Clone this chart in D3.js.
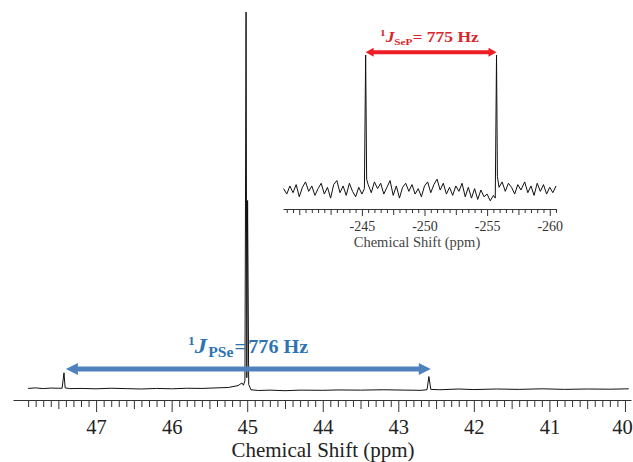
<!DOCTYPE html>
<html>
<head>
<meta charset="utf-8">
<script src="https://cdn.jsdelivr.net/npm/d3@7"></script>
<style>
  body { margin: 0; background: #fff; }
  text { font-family: "Liberation Serif", "Times New Roman", serif; }
</style>
</head>
<body>
<div id="chart"></div>
<script>
// 31P spectrum with 77Se satellites, inset: 77Se spectrum (doublet)

// main spectrum (ppm / relative intensity)
var mainShift = [47.9, 47.8, 47.7, 47.6, 47.5, 47.45, 47.425, 47.41, 47.35, 47.2, 47.0, 46.8, 46.6, 46.4,
  46.2, 46.0, 45.8, 45.6, 45.4, 45.25, 45.12, 45.07, 45.05, 45.03, 45.015, 45.005, 44.995, 44.98, 44.95,
  44.85, 44.7, 44.5, 44.3, 44.0, 43.8, 43.5, 43.2, 42.9, 42.7, 42.62, 42.595, 42.57, 42.45, 42.2, 42.0,
  41.7, 41.4, 41.1, 40.8, 40.5, 40.2, 39.95];
var mainIntensity = [0.15, 0.3, 0.1, 0.25, 0.2, 0.2, 4.3, 0.3, 0.1, 0.15, 0.05, 0.2, 0.1, 0.0,
  0.15, 0.05, 0.2, 0.15, 0.3, 0.4, 0.9, 1.6, 1.0, 2.2, 100, 3.0, 50, 1.2, -0.2,
  -0.4, -0.3, -0.45, -0.3, -0.35, -0.25, -0.3, -0.2, -0.3, -0.35, -0.2, 3.3, -0.1, -0.2, 0.0, -0.15,
  0.0, -0.1, 0.05, -0.1, 0.0, -0.05, 0.05];

// inset spectrum
var insetShift = [-238.75, -239, -239.25, -239.5, -239.75, -240, -240.25, -240.5, -240.75, -241,
  -241.25, -241.5, -241.75, -242, -242.25, -242.5, -242.75, -243, -243.25, -243.5, -243.75, -244,
  -244.25, -244.5, -244.75, -245, -245.2, -245.3, -245.38, -245.5, -245.75, -246, -246.25, -246.5,
  -246.75, -247, -247.25, -247.5, -247.75, -248, -248.25, -248.5, -248.75, -249, -249.25, -249.5,
  -249.75, -250, -250.25, -250.5, -250.75, -251, -251.25, -251.5, -251.75, -252, -252.25, -252.5,
  -252.75, -253, -253.25, -253.5, -253.75, -254, -254.25, -254.5, -254.75, -255, -255.25, -255.5,
  -255.65, -255.75, -255.82, -255.95, -256.2, -256.45, -256.7, -256.95, -257.2, -257.45, -257.7,
  -258, -258.25, -258.5, -258.75, -259, -259.25, -259.5, -259.75, -260, -260.25, -260.5];
var insetIntensity = [1, -3, 3, -2, 4, -5, 2, 6, -1, 3,
  -4, 1, 5, -3, 2, -6, 4, 7, -2, 3, -4, 5,
  -1, -5, 2, -3, 1, 100, 8, 4, -2, 6, 1, 5,
  -3, 2, 7, -4, 3, -6, 2, 5, -1, 4, -3, 1,
  -5, 3, 6, -2, 4, 8, 0, 5, -3, 2, -4, 3,
  -1, 5, -5, 2, -6, 1, -7, 0, -5, -3, -8, -4,
  -6, 100, 10, 2, 6, -1, 5, 2, -3, 4, 0,
  6, -2, 3, -4, 5, -1, 4, -3, 2, -2, 3];

var mainTickLabels = [47, 46, 45, 44, 43, 42, 41, 40];
var insetTickLabels = [-245, -250, -255, -260];

var mainCoupling = [47.40, 42.57];   // 1J(PSe) = 776 Hz
var insetCoupling = [-245.3, -255.75]; // 1J(SeP) = 775 Hz

var svgWidth = 633;
var svgHeight = 462;

var svg = d3.select("#chart")
  .append("svg")
  .attr("width", svgWidth)
  .attr("height", svgHeight);

// ---- main spectrum ----
var x = d3.scaleLinear().domain([48.10, 39.92]).range([13, 631]);
var y = d3.scaleLinear().domain([0, 100]).range([389, 12]);

var line = d3.line()
  .x(i => x(mainShift[i]))
  .y(i => y(mainIntensity[i]));

svg.append("path")
  .attr("d", line(d3.range(mainShift.length)))
  .attr("fill", "none")
  .attr("stroke", "#111")
  .attr("stroke-width", 1);

var axisY = 400;

function tickLayer(scale, values, size, yPos) {
  var g = svg.append("g")
    .attr("transform", `translate(0, ${yPos})`)
    .call(d3.axisBottom(scale).tickValues(values).tickSize(size).tickSizeOuter(0).tickFormat(""));
  g.selectAll("line").attr("stroke", "#333");
  g.select(".domain").remove();
  return g;
}

tickLayer(x, d3.range(40, 48.05, 0.1).filter(v => Math.abs(v * 2 - Math.round(v * 2)) > 0.01), 7, axisY);
tickLayer(x, d3.range(40.5, 48.05, 1), 9, axisY);

var xAxis = svg.append("g")
  .attr("transform", `translate(0, ${axisY})`)
  .call(d3.axisBottom(x).tickValues(mainTickLabels).tickSize(12).tickSizeOuter(0).tickFormat(d => d));
xAxis.select(".domain").attr("stroke", "#333");
xAxis.selectAll("line").attr("stroke", "#333");
xAxis.selectAll("text")
  .attr("y", 34)
  .attr("dy", 0)
  .attr("dx", d => d === 40 ? -3 : 0)
  .attr("font-size", "20.5px")
  .attr("font-family", "Liberation Serif, serif")
  .attr("fill", "#222");

svg.append("text")
  .attr("x", 323)
  .attr("y", 457)
  .attr("text-anchor", "middle")
  .attr("font-size", "21px")
  .attr("fill", "#222")
  .text("Chemical Shift (ppm)");

// blue coupling arrow
var ay = y(5.3);
var bx1 = x(mainCoupling[0]), bx2 = x(mainCoupling[1]);
svg.append("line")
  .attr("x1", bx1 + 10).attr("x2", bx2 - 10)
  .attr("y1", ay).attr("y2", ay)
  .attr("stroke", "#4f81bd")
  .attr("stroke-width", 5);
svg.append("path")
  .attr("d", `M${bx1},${ay} L${bx1 + 12},${ay - 6} L${bx1 + 12},${ay + 6} Z M${bx2},${ay} L${bx2 - 12},${ay - 6} L${bx2 - 12},${ay + 6} Z`)
  .attr("fill", "#4f81bd");

var blueLabel = svg.append("text")
  .attr("transform", "translate(188, 353) scale(1.12, 1)")
  .attr("fill", "#2e74b5")
  .attr("font-weight", "bold")
  .attr("font-size", "18px");
blueLabel.append("tspan").attr("font-size", "12px").attr("dy", -8).text("1");
blueLabel.append("tspan").attr("font-style", "italic").attr("font-size", "22px").attr("dy", 8).text("J");
blueLabel.append("tspan").attr("font-size", "14px").attr("dy", 4).attr("dx", 1).text("PSe");
blueLabel.append("tspan").attr("dy", -4).attr("dx", 1).text("=");
blueLabel.append("tspan").attr("dx", 2).text("776 Hz");

// ---- inset ----
var xi = d3.scaleLinear().domain([-238.7, -260.5]).range([283, 556]);
var yi = d3.scaleLinear().domain([0, 100]).range([190, 55]);

var insetLine = d3.line()
  .x(i => xi(insetShift[i]))
  .y(i => yi(insetIntensity[i]));

svg.append("path")
  .attr("d", insetLine(d3.range(insetShift.length)))
  .attr("fill", "none")
  .attr("stroke", "#111")
  .attr("stroke-width", 1);

var insetAxisY = 209;
tickLayer(xi, d3.range(-239, -260.6, -0.5).filter(v => Math.abs(v / 2.5 - Math.round(v / 2.5)) > 0.01), 4, insetAxisY);
tickLayer(xi, [-242.5, -247.5, -252.5, -257.5, -240], 6, insetAxisY);

var xiAxis = svg.append("g")
  .attr("transform", `translate(0, ${insetAxisY})`)
  .call(d3.axisBottom(xi).tickValues(insetTickLabels).tickSize(7).tickSizeOuter(0).tickFormat(d => String(d)));
xiAxis.select(".domain").attr("stroke", "#333");
xiAxis.selectAll("line").attr("stroke", "#333");
xiAxis.selectAll("text")
  .attr("y", 22)
  .attr("dy", 0)
  .attr("font-size", "14px")
  .attr("font-family", "Liberation Serif, serif")
  .attr("fill", "#333");

svg.append("text")
  .attr("x", 417)
  .attr("y", 247)
  .attr("text-anchor", "middle")
  .attr("font-size", "14.5px")
  .attr("fill", "#444")
  .text("Chemical Shift (ppm)");

// red coupling arrow
var ry = yi(102);
var rx1 = xi(insetCoupling[0]), rx2 = xi(insetCoupling[1]);
svg.append("line")
  .attr("x1", rx1 + 7).attr("x2", rx2 - 7)
  .attr("y1", ry).attr("y2", ry)
  .attr("stroke", "#ee1c24")
  .attr("stroke-width", 4);
svg.append("path")
  .attr("d", `M${rx1},${ry} L${rx1 + 8},${ry - 4.5} L${rx1 + 8},${ry + 4.5} Z M${rx2},${ry} L${rx2 - 8},${ry - 4.5} L${rx2 - 8},${ry + 4.5} Z`)
  .attr("fill", "#ee1c24");

var redLabel = svg.append("text")
  .attr("transform", "translate(380, 42) scale(1.25, 1)")
  .attr("fill", "#d9262b")
  .attr("font-weight", "bold")
  .attr("font-size", "14px");
redLabel.append("tspan").attr("font-size", "9px").attr("dy", -6).text("1");
redLabel.append("tspan").attr("font-style", "italic").attr("dy", 6).text("J");
redLabel.append("tspan").attr("font-size", "9px").attr("dy", 3).text("SeP");
redLabel.append("tspan").attr("dy", -3).text("= 775 Hz");
</script>
</body>
</html>
